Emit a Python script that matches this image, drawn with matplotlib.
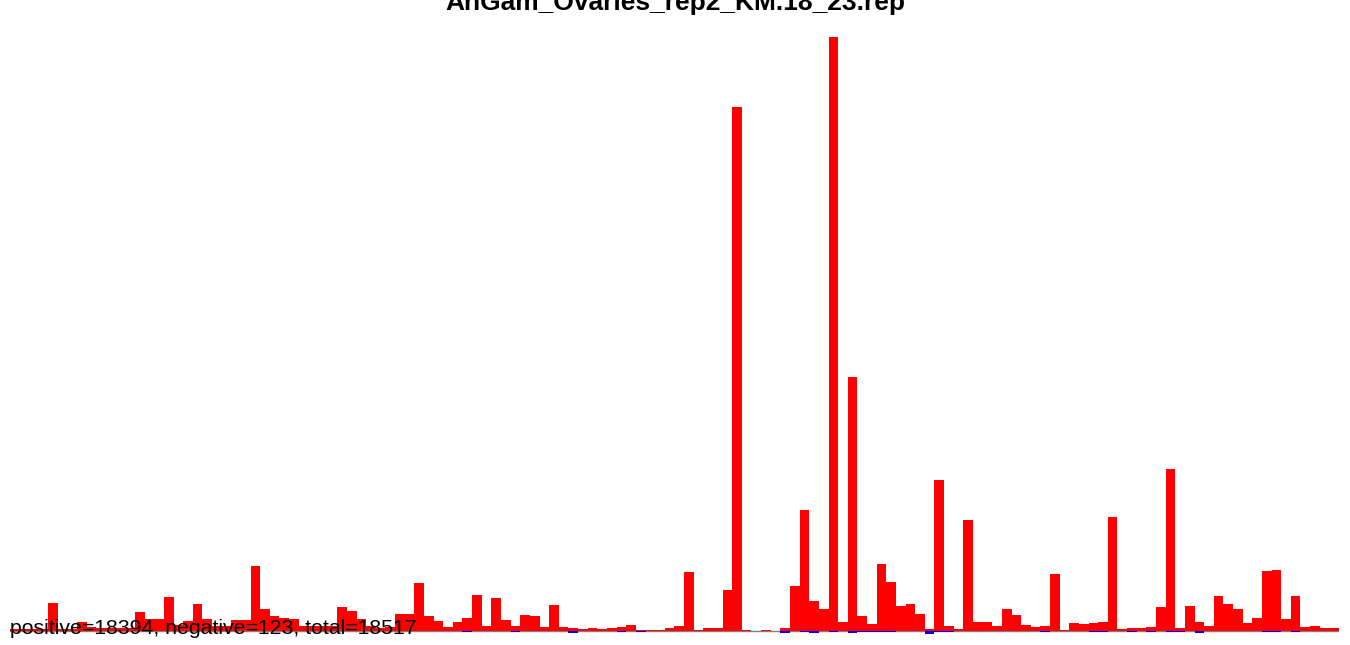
import matplotlib
matplotlib.use("Agg")
import matplotlib.pyplot as plt
import numpy as np

title = "AnGam_Ovaries_rep2_KM.18_23.rep"
summary = "positive=18394, negative=123, total=18517"

# positive counts per position (arbitrary units)
positive = [
    2, 2, 2, 2, 27.7, 2, 2, 9, 4, 3,
    3, 3, 3, 19, 11.7, 11.7, 33.7, 6, 9.7, 26.7,
    11.7, 5, 5, 10.7, 10.7, 64.7, 21.7, 14.7, 13, 11.7,
    4.7, 4.7, 4.7, 4.7, 23.7, 19.7, 11.7, 5, 3, 4,
    17, 17, 47.7, 14.7, 9.7, 4, 8.7, 13, 35.7, 4.7,
    32.7, 10.7, 4.7, 15.7, 14.7, 3.7, 25.7, 3.7, 2.7, 1.7,
    2.7, 1.7, 2.7, 3.7, 5.7, 0.7, 0.7, 0.7, 2.7, 4.7,
    58.7, 0.7, 2.7, 2.7, 40.7, 523.7, 0.7, 0, 0.7, 0,
    2.7, 44.7, 120.7, 29.7, 21.7, 593.7, 8.7, 253.7, 14.7, 6.7,
    66.7, 48.7, 24.7, 26.7, 16.7, 1.7, 150.7, 4.7, 1.7, 110.7,
    8.7, 8.7, 4.7, 21.7, 15.7, 5.7, 3.7, 4.7, 56.7, 0.7,
    7.7, 6.7, 7.7, 8.7, 113.7, 1.7, 2.7, 2.7, 3.7, 23.7,
    161.7, 2.7, 24.7, 8.7, 4.7, 34.7, 26.7, 21.7, 7.7, 12.7,
    59.7, 60.7, 11.7, 34.7, 3.7, 4.7, 2.7, 2.7,
]

# negative counts per position (drawn downward)
negative = [0.0] * len(positive)
neg_values = {
    16: 0.6, 25: 0.6, 42: 0.6, 47: 0.8, 52: 0.8, 58: 2.2, 63: 0.8, 65: 0.8,
    80: 2.2, 82: 0.8, 83: 2.2, 85: 0.8, 87: 2.2, 88: 0.8, 89: 0.8,
    90: 0.8, 91: 0.8, 95: 3.6, 96: 0.8, 97: 0.8, 107: 0.8, 112: 0.8,
    113: 0.8, 116: 0.8, 118: 0.8, 120: 0.8, 121: 0.8, 123: 2.6,
    130: 0.8, 131: 0.8, 133: 0.8,
}
for k, v in neg_values.items():
    negative[k] = v

W, H = 1350, 645
fig = plt.figure(figsize=(W / 100, H / 100), dpi=100)
fig.patch.set_facecolor("white")

left_px, right_px = 9.8, 1339.0
top_px, base_px = 37.0, 630.7
ax = fig.add_axes([left_px / W, 0, (right_px - left_px) / W, (H - top_px) / H])
x = np.arange(len(positive))
ax.axhline(0, color="#808080", lw=1.0, zorder=0)
ax.bar(x, positive, width=1.0, align="edge", color="#FF0000", linewidth=0, zorder=2)
ax.bar(x, [-v for v in negative], width=1.0, align="edge", color="#0000FF", linewidth=0, zorder=3)
ax.set_xlim(0, len(positive))
ax.set_ylim(-(H - base_px), base_px - top_px)
ax.axis("off")

fig.text(0.5, 1 - 10 / H, title, ha="center", va="baseline",
         fontsize=19, fontweight="bold", family="Liberation Sans")
fig.text(10 / W, 1 - 634.3 / H, summary, ha="left", va="baseline",
         fontsize=15.3, family="Liberation Sans", color="black")

fig.savefig("out.png", dpi=100, facecolor="white")
